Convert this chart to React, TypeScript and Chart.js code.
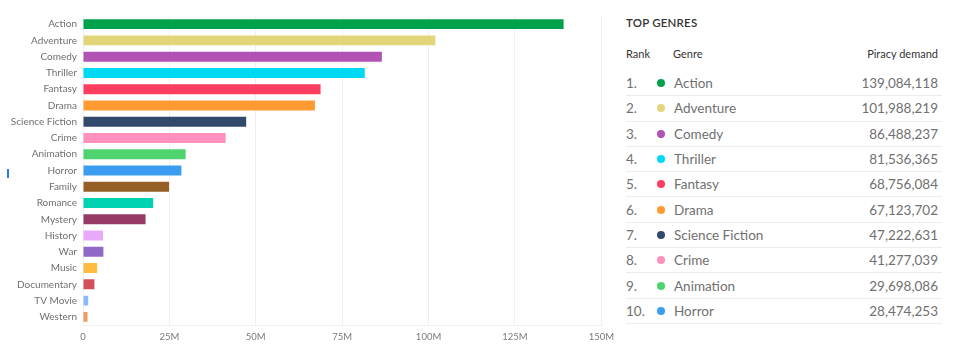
import React, { useEffect, useRef } from "react";
import { Chart, registerables } from "chart.js";

Chart.register(...registerables);

const genres = [
  "Action", "Adventure", "Comedy", "Thriller", "Fantasy", "Drama", "Science Fiction",
  "Crime", "Animation", "Horror", "Family", "Romance", "Mystery", "History", "War",
  "Music", "Documentary", "TV Movie", "Western",
];

const demand = [
  139084118, 101988219, 86488237, 81536365, 68756084, 67123702, 47222631,
  41277039, 29698086, 28474253, 24900000, 20300000, 18100000, 5800000, 5900000,
  4100000, 3300000, 1500000, 1300000,
];

const colors = [
  "#00a14b", "#e3d57a", "#b152b4", "#00d9f4", "#ff3d5e", "#ff9b31", "#33496b",
  "#ff8fbd", "#4fd36f", "#3c9df0", "#955f26", "#00d3b1", "#943a64", "#e6aaf9", "#8f69c5",
  "#ffbb3f", "#d24f59", "#8bb9ff", "#f19b5c",
];

const xTicks = [0, 25e6, 50e6, 75e6, 100e6, 125e6, 150e6];
const xTickLabels = ["0", "25M", "50M", "75M", "100M", "125M", "150M"];

const topCount = 10;
const FONT = "Lato, 'Open Sans', sans-serif";

function BarChart() {
  const ref = useRef<HTMLCanvasElement | null>(null);
  useEffect(() => {
    if (!ref.current) return;
    const chart = new Chart(ref.current, {
      type: "bar",
      data: {
        labels: genres,
        datasets: [
          {
            data: demand,
            backgroundColor: colors,
            borderWidth: 0,
            barPercentage: 0.68,
            categoryPercentage: 0.9,
          },
        ],
      },
      options: {
        indexAxis: "y",
        animation: false,
        responsive: false,
        maintainAspectRatio: false,
        layout: { padding: { top: 16, right: 15, bottom: 12, left: 0 } },
        plugins: { legend: { display: false }, tooltip: { enabled: false } },
        scales: {
          x: {
            min: 0,
            max: 150e6,
            afterBuildTicks: (axis: any) => {
              axis.ticks = xTicks.map((v) => ({ value: v }));
            },
            ticks: {
              color: "#7a7a7a",
              font: { family: FONT, size: 9.5 },
              padding: 6,
              callback: (v: any) => {
                const i = xTicks.indexOf(Number(v));
                return i >= 0 ? xTickLabels[i] : "";
              },
            },
            grid: { color: "#efefef", drawTicks: false },
            border: { color: "#efefef" },
            afterFit: (s: any) => {
              s.height = 22;
            },
          },
          y: {
            ticks: {
              color: "#6f6f6f",
              font: { family: FONT, size: 10 },
              padding: 6,
            },
            grid: { display: false, drawTicks: false },
            border: { display: false },
            afterFit: (s: any) => {
              s.width = 83;
            },
          },
        },
      },
    });
    return () => chart.destroy();
  }, []);
  return <canvas ref={ref} width={620} height={359} style={{ display: "block" }} />;
}

export default function App() {
  const rows = genres.slice(0, topCount).map((g, i) => ({
    rank: i + 1,
    genre: g,
    value: demand[i],
    color: colors[i],
  }));
  return (
    <div
      style={{
        position: "fixed",
        left: 0,
        top: 0,
        width: 962,
        height: 359,
        background: "#fff",
        fontFamily: FONT,
        overflow: "hidden",
      }}
    >
      <div style={{ position: "absolute", left: 0, top: 0 }}>
        <BarChart />
      </div>
      <div
        style={{
          position: "absolute",
          left: 7,
          top: 169,
          width: 2,
          height: 9,
          background: "#2a7de1",
        }}
      />
      <div style={{ position: "absolute", left: 626, top: 16, width: 316 }}>
        <div style={{ fontSize: 11.5, fontWeight: 600, color: "#333", letterSpacing: 0.2 }}>
          TOP GENRES
        </div>
        <div
          style={{
            display: "flex",
            marginTop: 16,
            fontSize: 11,
            color: "#333",
            height: 16,
            alignItems: "center",
          }}
        >
          <div style={{ width: 47 }}>Rank</div>
          <div style={{ flex: 1 }}>Genre</div>
          <div style={{ paddingRight: 4 }}>Piracy demand</div>
        </div>
        <div style={{ marginTop: 10 }}>
          {rows.map((r) => (
            <div
              key={r.rank}
              style={{
                display: "flex",
                alignItems: "center",
                height: 24.3,
                borderBottom: "1px solid #ececec",
                fontSize: 13.5,
                color: "#707070",
              }}
            >
              <div style={{ width: 31 }}>{r.rank}.</div>
              <div
                style={{
                  width: 8,
                  height: 8,
                  borderRadius: 4,
                  background: r.color,
                  marginRight: 9,
                }}
              />
              <div style={{ flex: 1 }}>{r.genre}</div>
              <div style={{ paddingRight: 4 }}>{r.value.toLocaleString("en-US")}</div>
            </div>
          ))}
        </div>
      </div>
    </div>
  );
}
